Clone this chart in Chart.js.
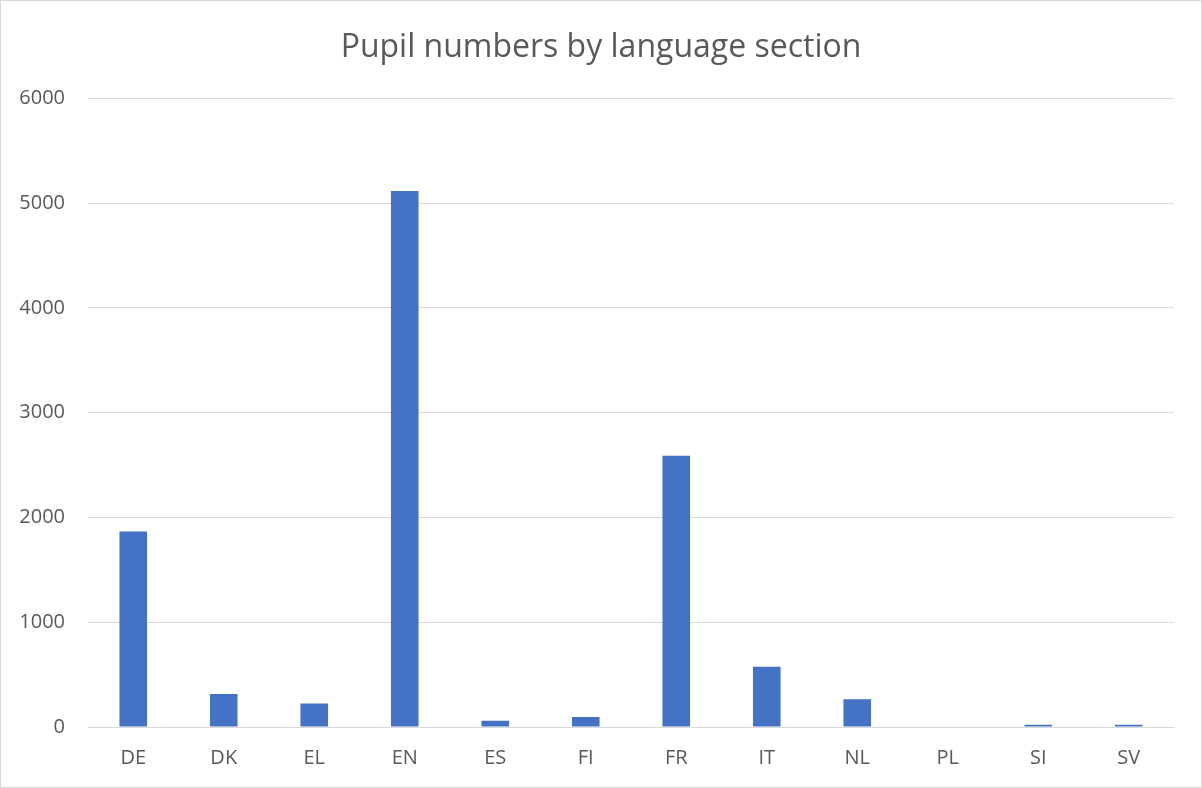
<!DOCTYPE html>
<html lang="en">
<head>
  <meta charset="UTF-8">
  <title>Pupil numbers by language section</title>
  <script src="https://cdn.jsdelivr.net/npm/chart.js"></script>
  <style>
    html, body {
      margin: 0;
      padding: 0;
      background: #fff;
    }
    #wrap {
      position: absolute;
      left: 0;
      top: 0;
      width: 1200px;
      height: 786px;
      border: 1px solid #d9d9d9;
    }
  </style>
</head>
<body>
<div id="wrap">
  <canvas id="chart"></canvas>
</div>

<script>
  const sections = ['DE', 'DK', 'EL', 'EN', 'ES', 'FI', 'FR', 'IT', 'NL', 'PL', 'SI', 'SV'];
  const pupils = [1865, 315, 225, 5115, 60, 95, 2590, 575, 265, 5, 22, 22];
  const yTicks = [0, 1000, 2000, 3000, 4000, 5000, 6000];

  const ctx = document.getElementById('chart').getContext('2d');
  new Chart(ctx, {
    type: 'bar',
    data: {
      labels: sections,
      datasets: [{
        data: pupils,
        backgroundColor: '#4472C4',
        barPercentage: 0.305,
        categoryPercentage: 1.0
      }]
    },
    options: {
      responsive: true,
      maintainAspectRatio: false,
      animation: false,
      layout: {
        padding: 0
      },
      plugins: {
        legend: { display: false },
        tooltip: { enabled: false },
        title: {
          display: true,
          text: 'Pupil numbers by language section',
          color: '#595959',
          font: { family: 'Open Sans', size: 32, weight: 'normal' },
          padding: { top: 28, bottom: 31 }
        }
      },
      scales: {
        x: {
          afterFit: axis => { axis.height = 60; },
          grid: { display: false, drawTicks: false },
          border: { color: '#d9d9d9', width: 1 },
          ticks: {
            color: '#595959',
            font: { family: 'Open Sans', size: 20 },
            padding: 19
          }
        },
        y: {
          min: 0,
          max: 6000,
          afterBuildTicks: axis => {
            axis.ticks = yTicks.map(v => ({ value: v }));
          },
          afterFit: axis => { axis.width = 87; },
          grid: { color: '#d9d9d9', lineWidth: 1, drawTicks: false },
          border: { display: false },
          ticks: {
            color: '#595959',
            font: { family: 'Open Sans', size: 20 },
            padding: 23,
            callback: v => String(v)
          }
        },
        // empty right-hand axis, only reserves the right margin
        yRight: {
          position: 'right',
          min: 0,
          max: 6000,
          afterFit: axis => { axis.width = 27; },
          grid: { display: false, drawTicks: false },
          border: { display: false },
          ticks: { display: false }
        }
      }
    }
  });
</script>
</body>
</html>
